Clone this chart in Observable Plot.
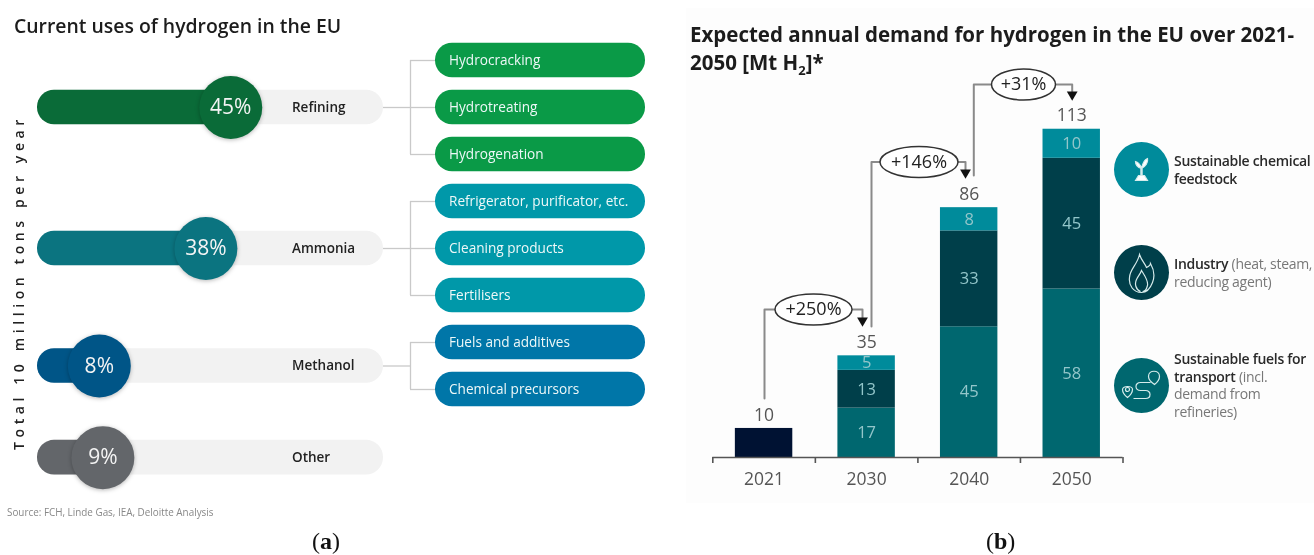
<!DOCTYPE html>
<html>
<head>
<meta charset="utf-8">
<script src="https://cdn.jsdelivr.net/npm/d3@7"></script>
<script src="https://cdn.jsdelivr.net/npm/@observablehq/plot@0.6"></script>
<style>
  html, body { margin: 0; padding: 0; background: #fff; }
  #page { position: relative; width: 1314px; height: 555px; overflow: hidden; font-family: "Open Sans", sans-serif; filter: blur(0.3px); }
  #page svg { position: absolute; top: 0; background: transparent; overflow: visible; }
  .t { position: absolute; white-space: nowrap; }
  .title { font-weight: 600; color: #1c1c1c; }
  .legend { font-size: 14px; line-height: 17.5px; letter-spacing: -0.3px; color: #777; }
  .legend b { font-weight: 600; color: #2a2a2a; }
  .cap { font-family: "Liberation Serif", serif; font-size: 24px; color: #111; }
  .shadow { filter: drop-shadow(0 1px 2px rgba(0,0,0,.28)); }
  .spaced text { letter-spacing: 4.6px; }
</style>
</head>
<body>
<div id="page">
  <div id="panelB-bg" style="position:absolute;left:686px;top:8px;width:628px;height:495px;background:#fdfdfd"></div>
</div>
<script>
// ---------- data: panel (a) ----------
const useNames   = ["Refining", "Ammonia", "Methanol", "Other"];
const useShares  = [45, 38, 8, 9];
const refiningUses = ["Hydrocracking", "Hydrotreating", "Hydrogenation"];
const ammoniaUses  = ["Refrigerator, purificator, etc.", "Cleaning products", "Fertilisers"];
const methanolUses = ["Fuels and additives", "Chemical precursors"];

// ---------- data: panel (b) ----------
const years       = ["2021", "2030", "2040", "2050"];
const totals      = [10, 35, 86, 113];
const transport   = [null, 17, 45, 58];
const industry    = [null, 13, 33, 45];
const feedstock   = [null, 5, 8, 10];
const current     = [10, null, null, null];
const growthLabels = ["+250%", "+146%", "+31%"];

// ---------- styling ----------
const darkColors = ["#0a6b38", "#0b7480", "#005587", "#63666a"];
const pillColors = ["#0a9a47", "#0098a9", "#0076a8"];
const segColors  = { current: "#001233", transport: "#00676f", industry: "#003f4a", feedstock: "#008b9b" };
const page = document.getElementById("page");

// ---------- panel (a) ----------
const xMin = -9.4, xMax = 88, xL = 37, xR = 383;
const pxA = p => xMin + (p - xL) * (xMax - xMin) / (xR - xL);
const halfRow = 17.3 / 47;
const useRows = [1, 4, 6.5, 8.45];
const uses = useNames.map((name, i) => ({ name, share: useShares[i], row: useRows[i], dark: darkColors[i] }));
const groups = [refiningUses, ammoniaUses, methanolUses];
let r = 0;
const pills = [], brackets = [];
groups.forEach((g, gi) => {
  const first = r;
  g.forEach(label => pills.push({ label, row: r++, color: pillColors[gi] }));
  brackets.push({ y1: first, y2: r - 1, stem: useRows[gi] });
});

const plotA = Plot.plot({
  width: 660, height: 555,
  marginLeft: xL, marginRight: 660 - xR, marginTop: 60, marginBottom: 555 - 389,
  x: { domain: [xMin, xMax], axis: null },
  y: { domain: [0, 7], reverse: true, axis: null },
  style: { fontFamily: "'Open Sans', sans-serif", background: "transparent" },
  marks: [
    Plot.ruleY(brackets, { y: "stem", x1: pxA(383), x2: pxA(410), stroke: "#c9c9c9", strokeWidth: 1.3 }),
    Plot.ruleX(brackets, { x: pxA(410), y1: "y1", y2: "y2", stroke: "#c9c9c9", strokeWidth: 1.3 }),
    Plot.ruleY(pills, { y: "row", x1: pxA(410), x2: pxA(435), stroke: "#c9c9c9", strokeWidth: 1.3 }),
    Plot.rect(uses, { x1: xMin, x2: xMax, y1: d => d.row - halfRow, y2: d => d.row + halfRow, fill: "#f2f2f2", rx: 17 }),
    Plot.rect(uses, { x1: xMin, x2: "share", y1: d => d.row - halfRow, y2: d => d.row + halfRow, fill: "dark", rx: 17 }),
    Plot.dot(uses, { x: "share", y: "row", r: 31.5, fill: "dark", className: "shadow" }),
    Plot.text(uses, { x: "share", y: "row", text: d => d.share + "%", fill: "#f4f4f4", fontSize: 21, fontWeight: 500 }),
    Plot.text(uses, { x: pxA(291.5), y: "row", text: "name", textAnchor: "start", fill: "#222", fontSize: 13.5, fontWeight: 600 }),
    Plot.rect(pills, { x1: pxA(435), x2: pxA(645), y1: d => d.row - halfRow, y2: d => d.row + halfRow, fill: "color", rx: 17 }),
    Plot.text(pills, { x: pxA(448.5), y: "row", text: "label", textAnchor: "start", fill: "#eef8f8", fontSize: 13.6 }),
    Plot.text(["Total 10 million tons per year"], { x: pxA(19), y: (282 - 60) / 47, text: d => d, rotate: -90, fill: "#222", fontSize: 14, fontWeight: 600, className: "spaced" })
  ]
});
plotA.style.left = "0px";
page.appendChild(plotA);

// ---------- panel (b) ----------
const originB = 680, baseY = 457, unitPx = 2.905, slotPx = 102.55, axisL = 712.3;
const pxB = p => (p - axisL) / slotPx;
const pyB = p => (baseY - p) / unitPx;
const gap = 0.22;
const rows = years.flatMap((year, i) => [
  { slot: i + .5, value: current[i],   seg: "current" },
  { slot: i + .5, value: transport[i], seg: "transport" },
  { slot: i + .5, value: industry[i],  seg: "industry" },
  { slot: i + .5, value: feedstock[i], seg: "feedstock" }
]).filter(d => d.value != null);
const totalRows = years.map((year, i) => ({ slot: i + .5, total: totals[i] }));
const bySeg = d => segColors[d.seg];

const ellipse = (rx, ry) => ({
  draw(c) {
    const k = 0.5523;
    c.moveTo(-rx, 0);
    c.bezierCurveTo(-rx, -k * ry, -k * rx, -ry, 0, -ry);
    c.bezierCurveTo(k * rx, -ry, rx, -k * ry, rx, 0);
    c.bezierCurveTo(rx, k * ry, k * rx, ry, 0, ry);
    c.bezierCurveTo(-k * rx, ry, -rx, k * ry, -rx, 0);
    c.closePath();
  }
});
// bracket routes, in page pixels converted through the chart's scales
const routes = [
  { label: growthLabels[0], pts: [[764, 398], [764, 309], [862, 309], [862, 318]], cx: 813,  cy: 309,   rx: 38.5, head: [862, 320] },
  { label: growthLabels[1], pts: [[871, 326], [871, 161.5], [965, 161.5], [965, 170]], cx: 918.5, cy: 161.5, rx: 39, head: [965, 172] },
  { label: growthLabels[2], pts: [[973.3, 175], [973.3, 84], [1071.7, 84], [1071.7, 92]], cx: 1023, cy: 84, rx: 32, head: [1071.7, 94] }
];
const routePts = routes.flatMap((rt, i) => rt.pts.map(([x, y]) => ({ i, x: pxB(x), y: pyB(y) })));

const plant = { draw(c) {
  c.moveTo(-6, 11); c.lineTo(-3, 6); c.lineTo(3, 6); c.lineTo(6, 11); c.closePath();
  c.moveTo(-.6, 6); c.lineTo(-.6, -2); c.lineTo(.6, -2); c.lineTo(.6, 6); c.closePath();
  c.moveTo(0, -1); c.bezierCurveTo(-1, -5, -3, -7, -6, -8); c.bezierCurveTo(-6, -5, -4, -2, 0, -1); c.closePath();
  c.moveTo(0, -1); c.bezierCurveTo(1, -6, 3, -10, 6, -11); c.bezierCurveTo(7, -7, 4, -3, 0, -1); c.closePath();
}};
const flame = { draw(c) {
  c.moveTo(-2, -18);
  c.bezierCurveTo(0, -12, 4, -8, 5, -5);
  c.bezierCurveTo(7, -6, 9, -8, 9, -9);
  c.bezierCurveTo(13, -2, 13, 5, 11, 10);
  c.bezierCurveTo(8, 18, 3, 20, 0, 20);
  c.bezierCurveTo(-8, 20, -13, 13, -12, 5);
  c.bezierCurveTo(-12, -3, -4, -8, -2, -18);
  c.closePath();
  c.moveTo(-1, 19);
  c.bezierCurveTo(-6, 17, -7, 11, -5, 7);
  c.bezierCurveTo(-3, 3, -1, 1, 0, -2);
  c.bezierCurveTo(3, 3, 7, 8, 6, 13);
  c.bezierCurveTo(5, 17, 3, 19, 1, 19);
}};
const route = { draw(c) {
  c.moveTo(-19, 4); c.bezierCurveTo(-19, 0, -9, 0, -9, 4); c.bezierCurveTo(-9, 8, -14, 12, -14, 12); c.bezierCurveTo(-14, 12, -19, 8, -19, 4); c.closePath();
  c.moveTo(-12, 4); c.arc(-14, 4, 2, 0, 2 * Math.PI);
  c.moveTo(-8, 13); c.lineTo(4, 13); c.bezierCurveTo(10, 13, 10, 5, 4, 5); c.lineTo(-1, 5); c.bezierCurveTo(-7, 5, -7, -3, -1, -3); c.lineTo(9, -3);
  c.moveTo(7, -9); c.bezierCurveTo(7, -16, 18, -16, 18, -9); c.bezierCurveTo(18, -5, 13, -1, 13, -1); c.bezierCurveTo(13, -1, 7, -5, 7, -9); c.closePath();
}};
const iconRows = [
  { py: 169, seg: "feedstock", sym: plant, fill: "#fff" },
  { py: 272, seg: "industry",  sym: flame, fill: "none" },
  { py: 385, seg: "transport", sym: route, fill: "none" }
];

const plotB = Plot.plot({
  width: 634, height: 555,
  marginLeft: axisL - originB, marginRight: 1314 - (axisL + 4 * slotPx), marginTop: 0, marginBottom: 555 - baseY,
  x: { domain: [0, 4], axis: null },
  y: { domain: [0, baseY / unitPx], axis: null },
  style: { fontFamily: "'Open Sans', sans-serif", background: "transparent" },
  marks: [
    Plot.rect(rows, Plot.stackY({ x: "slot", y: "value", x1: d => d.slot - .5 + gap, x2: d => d.slot + .5 - gap, fill: bySeg })),
    Plot.text(rows.filter(d => d.seg !== "current"), Plot.stackY({ x: "slot", y: "value", z: "slot", text: d => d.value, fill: "#93c6ca", fontSize: 16.5 })),
    Plot.ruleY([0], { stroke: "#555", strokeWidth: 1.6 }),
    Plot.axisX({ ticks: [0, 1, 2, 3, 4], tickSize: 6, text: null, label: null, stroke: "#555", strokeWidth: 1.6 }),
    Plot.axisX({ ticks: years.map((_, i) => i + .5), tickSize: 0, tickPadding: 15, tickFormat: v => years[Math.floor(v)], label: null, fill: "#555", fontSize: 17.5 }),
    Plot.text(totalRows, { x: "slot", y: "total", dy: -13.5, text: "total", fill: "#555", fontSize: 17.5 }),
    Plot.line(routePts, { x: "x", y: "y", z: "i", stroke: "#8a8a8a", strokeWidth: 2 }),
    ...routes.flatMap(rt => [
      Plot.dot([rt], { x: pxB(rt.head[0]), y: pyB(rt.head[1]), symbol: "triangle", rotate: 180, r: 4, fill: "#111" }),
      Plot.dot([rt], { x: pxB(rt.cx), y: pyB(rt.cy), symbol: ellipse(rt.rx, 15.5), fill: "#fff", stroke: "#333", strokeWidth: 1.5 }),
      Plot.text([rt], { x: pxB(rt.cx), y: pyB(rt.cy), text: "label", fill: "#222", fontSize: 18, fontWeight: 500 })
    ]),
    Plot.dot(iconRows, { x: pxB(1141), y: d => pyB(d.py), r: 27.5, fill: bySeg }),
    ...iconRows.map(d => Plot.dot([d], { x: pxB(1141), y: pyB(d.py), symbol: d.sym, fill: d.fill, stroke: "#d5ebeb", strokeWidth: 1.2 }))
  ]
});
plotB.style.left = originB + "px";
page.appendChild(plotB);

// ---------- titles, legend and captions ----------
const add = (cls, css, html) => {
  const el = document.createElement("div");
  el.className = "t " + cls;
  el.style.cssText = css;
  el.innerHTML = html;
  page.appendChild(el);
};
add("title", "left:14px;top:12px;font-size:19.4px", "Current uses of hydrogen in the EU");
add("title", "left:690px;top:20px;font-size:20.5px;line-height:28px;font-weight:700",
    "Expected annual demand for hydrogen in the EU over 2021-<br>2050 [Mt H<sub style='font-size:13px;line-height:0'>2</sub>]*");
add("", "left:7px;top:505px;font-size:9.9px;color:#888", "Source: FCH, Linde Gas, IEA, Deloitte Analysis");
add("legend", "left:1174px;top:152px", "<b>Sustainable chemical<br>feedstock</b>");
add("legend", "left:1174px;top:255px", "<b>Industry</b> (heat, steam,<br>reducing agent)");
add("legend", "left:1174px;top:350px", "<b>Sustainable fuels for<br>transport</b> (incl.<br>demand from<br>refineries)");
add("cap", "left:312px;top:528px", "(<b>a</b>)");
add("cap", "left:986px;top:528px", "(<b>b</b>)");
</script>
</body>
</html>
